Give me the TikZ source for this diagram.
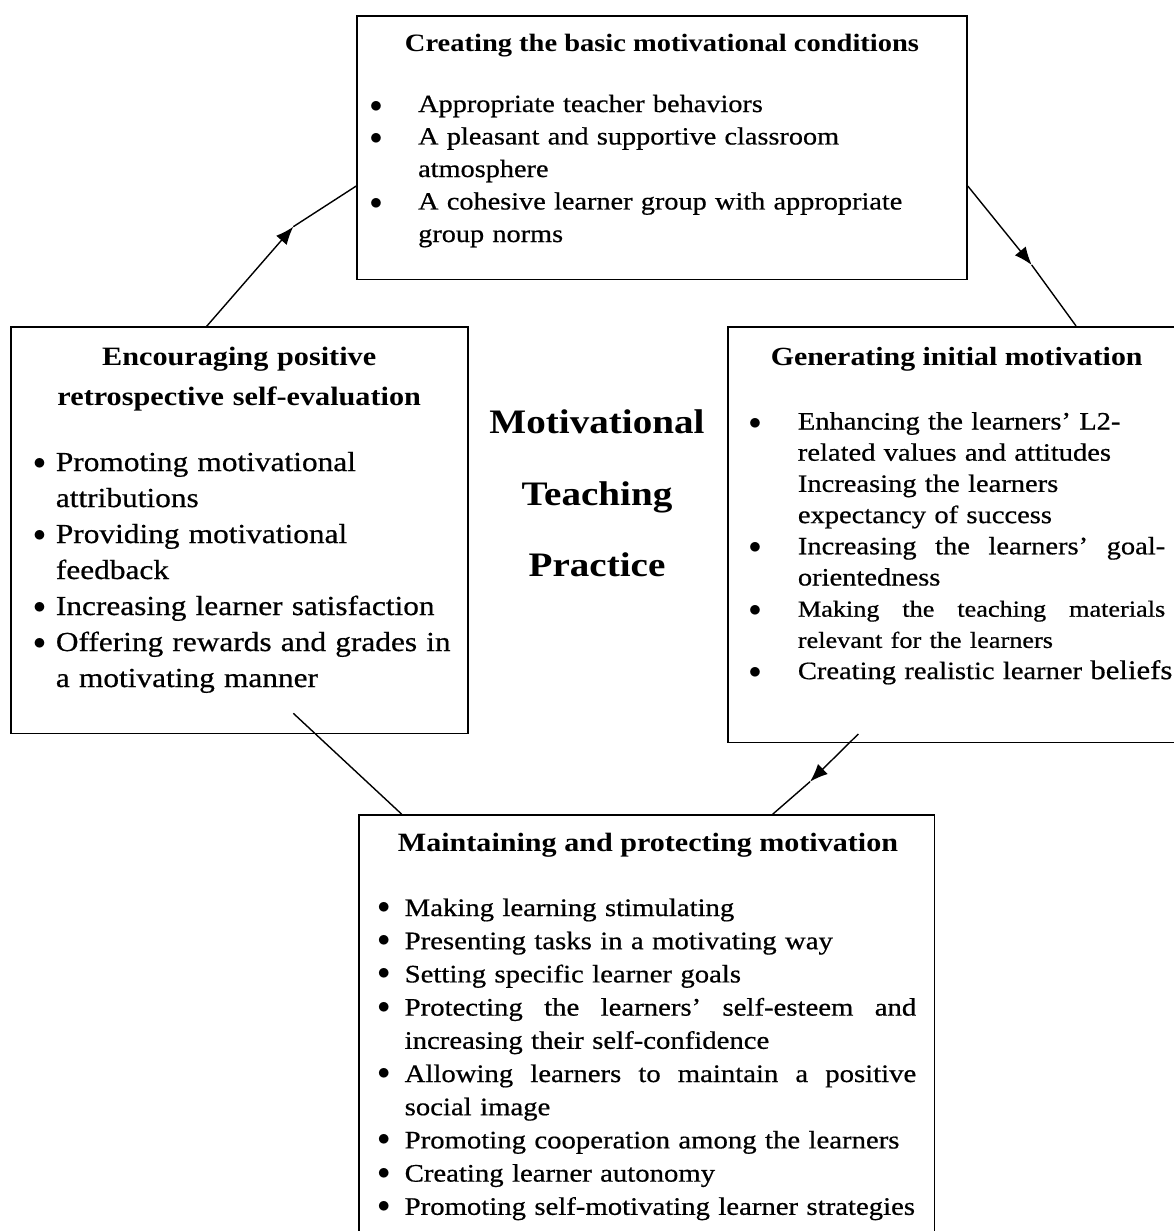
\documentclass[tikz,border=0pt]{standalone}
\usepackage{fontspec}
\setmainfont{Liberation Serif}[FakeStretch=1.14, UprightFeatures={FakeBold=0.6}]
\usetikzlibrary{arrows.meta}
\setlength\parindent{0pt}
% bullet: size, raise, gap from text start to bullet centre
\newcommand\bul[3]{\llap{\makebox[0pt][c]{\fontsize{#1}{#1}\selectfont\raisebox{#2}{$\bullet$}}\hspace{#3}}}
\newcommand\itT[1]{\par\noindent\bul{42}{-0.5pt}{42pt}#1}
\newcommand\itL[1]{\par\noindent\bul{28}{2pt}{16.4pt}#1}
\newcommand\itR[1]{\par\noindent\bul{42}{0.5pt}{42.7pt}#1}
\newcommand\itB[1]{\par\noindent\bul{27}{2.5pt}{20.9pt}#1}
% justified single line
\newcommand\jline[2]{\makebox[#1][s]{\spaceskip=.25em plus 20em\relax #2}}
\begin{document}
\begin{tikzpicture}[x=1pt,y=-1pt,
  box/.style={draw=black, line width=1.6pt, rectangle, inner sep=0pt},
  conn/.style={draw=black, line width=1.4pt},
  arr/.style={conn, -{Latex[length=18pt,width=14pt]}},
  ttl/.style={anchor=base, align=center, inner sep=0pt, font=\bfseries\fontsize{#1}{40.7}\selectfont},
  lst/.style={anchor=base west, align=left, inner sep=0pt}]
\useasboundingbox (0,0) rectangle (1174,1231);
\fill[white] (0,0) rectangle (1174,1231);
% boxes
\node[box, minimum width=610pt, minimum height=263.5pt] (T) at (662,147.75) {};
\node[box, minimum width=457pt, minimum height=406.3pt] (L) at (239.2,530.2) {};
\node[box, minimum width=454pt, minimum height=415.6pt] (R) at (955.2,534.5) {};
\node[box, minimum width=575.3pt, minimum height=425pt] (B) at (646.7,1027.5) {};
% titles
\node[ttl=25] (Tt) at (662,51.7) {Creating the basic motivational conditions};
\node[ttl=26.5, text width=440pt] (Lt) at (239.2,365) {Encouraging positive\\retrospective self-evaluation};
\node[ttl=26.2] (Rt) at (956.7,365) {Generating initial motivation};
\node[ttl=26.4] (Bt) at (648,851.7) {Maintaining and protecting motivation};
\node[anchor=base, align=center, text width=260pt, inner sep=0pt,
  font=\bfseries\fontsize{34.3}{71.7}\selectfont] (C) at (597,433.3) {Motivational\\Teaching\\Practice};
% lists (anchor = first baseline minus one baselineskip)
\node[lst, text width=520pt, font=\fontsize{24.8}{32.5}\selectfont] (Tl) at (418,79.5) {%
\itT{Appropriate teacher behaviors}%
\itT{A pleasant and supportive classroom\\atmosphere}%
\itT{A cohesive learner group with appropriate\\group norms}};
\node[lst, text width=420pt, font=\fontsize{27.5}{36}\selectfont] (Ll) at (55.7,435) {%
\itL{Promoting motivational\\attributions}%
\itL{Providing motivational\\feedback}%
\itL{Increasing learner satisfaction}%
\itL{Offering rewards and grades in\\a motivating manner}};
\node[lst, text width=420pt, font=\fontsize{25}{31.2}\selectfont] (Rl) at (797.7,398.3) {%
\itR{Enhancing the learners’ L2-\\related values and attitudes\\Increasing the learners\\expectancy of success}%
\itR{\jline{367.3pt}{Increasing the learners’ goal-}\\orientedness}%
\itR{{\fontsize{23}{31.2}\selectfont\jline{367.3pt}{Making the teaching materials}\\relevant for the learners}}%
\itR{Creating realistic learner {\fontsize{27}{31.2}\selectfont beliefs}}};
\node[lst, text width=530pt, font=\fontsize{25.2}{33.2}\selectfont] (Bl) at (404.5,882.8) {%
\itB{Making learning stimulating}%
\itB{Presenting tasks in a motivating way}%
\itB{Setting specific learner goals}%
\itB{\jline{511.5pt}{Protecting the learners’ self-esteem and}\\increasing their self-confidence}%
\itB{\jline{511.5pt}{Allowing learners to maintain a positive}\\social image}%
\itB{Promoting cooperation among the learners}%
\itB{Creating learner autonomy}%
\itB{Promoting self-motivating learner strategies}};
% connectors
\coordinate (k1) at (293.3,226.7);
\coordinate (k2) at (1031.7,265);
\coordinate (s3) at (858.3,734);
\coordinate (k3) at (810,781.7);
\coordinate (s4) at (293.3,713.3);
\draw[arr] ([xshift=-32.5pt]L.north) -- (k1);
\draw[conn] (k1) -- ([yshift=-38.3pt]T.west);
\draw[arr] ([yshift=-38.3pt]T.east) -- (k2);
\draw[conn] (k2) -- ([xshift=120.8pt]R.north);
\draw[arr] (s3) -- (k3);
\draw[conn] (k3) -- ([xshift=126pt]B.north);
\draw[conn] (s4) -- ([xshift=-245pt]B.north);
\end{tikzpicture}
\end{document}
